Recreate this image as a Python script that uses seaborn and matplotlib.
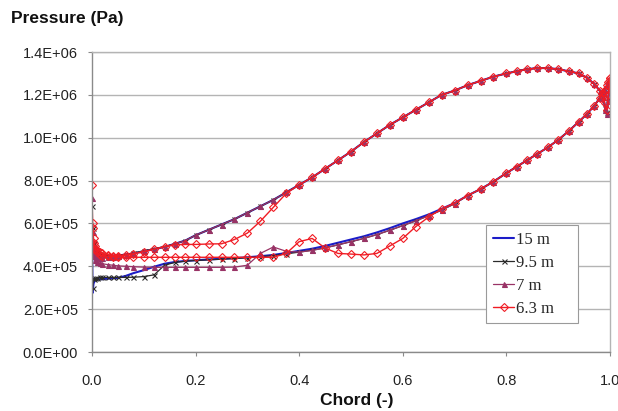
import numpy as np
import pandas as pd
import matplotlib
matplotlib.use("Agg")
import matplotlib.pyplot as plt
from matplotlib.ticker import FuncFormatter, MultipleLocator
from matplotlib.lines import Line2D
import seaborn as sns

# ---------------- data (pressure in units of 1e5 Pa) ----------------
series_labels = ["15 m", "9.5 m", "7 m", "6.3 m"]

chord = [0.001, 0.003, 0.006, 0.01, 0.015, 0.02, 0.03, 0.04, 0.05, 0.065,
         0.08, 0.1, 0.12, 0.14, 0.16, 0.18, 0.2, 0.225, 0.25, 0.275,
         0.3, 0.325, 0.35, 0.375, 0.4, 0.425, 0.45, 0.475, 0.5, 0.525,
         0.55, 0.575, 0.6, 0.625, 0.65, 0.675, 0.7, 0.725, 0.75, 0.775,
         0.8, 0.82, 0.84, 0.86, 0.88, 0.9, 0.92, 0.94, 0.955, 0.97,
         0.98, 0.987, 0.99, 0.994, 0.997, 1.0]

# leading-edge stagnation value for each series
stagnation = [6.0, 6.8, 7.2, 7.8]

p15_upper = [5.3, 4.9, 4.7, 4.6, 4.55, 4.5, 4.5, 4.5, 4.5, 4.55,
             4.6, 4.7, 4.8, 4.9, 5.05, 5.2, 5.45, 5.7, 5.95, 6.2,
             6.5, 6.8, 7.1, 7.45, 7.8, 8.15, 8.55, 8.95, 9.35, 9.8,
             10.2, 10.6, 10.95, 11.3, 11.65, 12.0, 12.2, 12.45, 12.65, 12.85,
             13.0, 13.1, 13.2, 13.25, 13.25, 13.2, 13.1, 13.0, 12.8, 12.5,
             12.2, 11.9, 11.5, 11.3, 11.9, 12.7]
p15_lower = [2.75, 3.2, 3.35, 3.38, 3.4, 3.4, 3.42, 3.44, 3.46, 3.55,
             3.68, 3.82, 3.98, 4.12, 4.2, 4.25, 4.28, 4.32, 4.35, 4.38,
             4.42, 4.47, 4.53, 4.62, 4.72, 4.82, 4.95, 5.1, 5.25, 5.4,
             5.58, 5.78, 6.0, 6.2, 6.42, 6.68, 6.95, 7.3, 7.6, 7.95,
             8.35, 8.65, 8.95, 9.25, 9.55, 9.9, 10.3, 10.75, 11.1, 11.5,
             11.85, 12.1, 12.25, 12.45, 12.6, 12.7]

p95_upper = [5.8, 5.1, 4.8, 4.65, 4.58, 4.52, 4.5, 4.5, 4.5, 4.55,
             4.62, 4.72, 4.82, 4.92, 5.05, 5.2, 5.45, 5.7, 5.95, 6.2,
             6.5, 6.8, 7.1, 7.45, 7.8, 8.15, 8.55, 8.95, 9.35, 9.8,
             10.2, 10.6, 10.95, 11.3, 11.65, 12.0, 12.2, 12.45, 12.65, 12.85,
             13.0, 13.1, 13.2, 13.25, 13.25, 13.2, 13.1, 13.0, 12.8, 12.5,
             12.2, 11.9, 11.4, 11.2, 11.8, 12.7]
p95_lower = [3.0, 3.4, 3.45, 3.47, 3.48, 3.48, 3.48, 3.48, 3.48, 3.48,
             3.49, 3.52, 3.6, 4.05, 4.18, 4.24, 4.27, 4.3, 4.33, 4.36,
             4.4, 4.45, 4.5, 4.58, 4.66, 4.75, 4.86, 5.0, 5.15, 5.3,
             5.48, 5.68, 5.9, 6.12, 6.36, 6.62, 6.92, 7.3, 7.6, 7.95,
             8.35, 8.65, 8.95, 9.25, 9.55, 9.9, 10.3, 10.75, 11.1, 11.5,
             11.85, 12.1, 12.25, 12.45, 12.6, 12.7]

p7_upper = [5.6, 4.9, 4.6, 4.45, 4.4, 4.4, 4.42, 4.45, 4.48, 4.53,
            4.6, 4.7, 4.8, 4.9, 5.05, 5.2, 5.45, 5.7, 5.95, 6.2,
            6.5, 6.8, 7.1, 7.45, 7.8, 8.15, 8.55, 8.95, 9.35, 9.8,
            10.2, 10.6, 10.95, 11.3, 11.65, 12.0, 12.2, 12.45, 12.65, 12.85,
            13.0, 13.1, 13.2, 13.25, 13.25, 13.2, 13.1, 13.0, 12.8, 12.5,
            12.2, 11.9, 11.3, 11.1, 11.7, 12.7]
p7_lower = [5.0, 4.5, 4.28, 4.2, 4.15, 4.12, 4.08, 4.05, 4.02, 4.0,
            3.98, 3.96, 3.95, 3.95, 3.95, 3.95, 3.95, 3.95, 3.95, 3.96,
            4.05, 4.6, 4.9, 4.7, 4.66, 4.74, 4.86, 5.0, 5.15, 5.3,
            5.48, 5.68, 5.9, 6.12, 6.36, 6.62, 6.92, 7.3, 7.6, 7.95,
            8.35, 8.65, 8.95, 9.25, 9.55, 9.9, 10.3, 10.75, 11.1, 11.5,
            11.85, 12.1, 12.25, 12.45, 12.6, 12.7]

p63_upper = [6.0, 5.3, 4.95, 4.75, 4.65, 4.6, 4.55, 4.5, 4.5, 4.52,
             4.58, 4.68, 4.8, 4.92, 5.0, 5.02, 5.02, 5.04, 5.05, 5.25,
             5.55, 6.1, 6.75, 7.4, 7.8, 8.15, 8.55, 8.95, 9.35, 9.8,
             10.2, 10.6, 10.95, 11.3, 11.65, 12.0, 12.2, 12.45, 12.65, 12.85,
             13.0, 13.1, 13.2, 13.25, 13.25, 13.2, 13.1, 13.0, 12.8, 12.5,
             12.2, 11.95, 11.6, 11.3, 12.0, 12.8]
p63_lower = [5.8, 5.1, 4.8, 4.65, 4.55, 4.5, 4.47, 4.45, 4.43, 4.42,
             4.42, 4.42, 4.42, 4.42, 4.42, 4.42, 4.42, 4.42, 4.42, 4.42,
             4.42, 4.42, 4.42, 4.6, 5.15, 5.3, 4.85, 4.6, 4.57, 4.53,
             4.6, 4.95, 5.3, 5.85, 6.3, 6.68, 6.95, 7.3, 7.6, 7.95,
             8.35, 8.65, 8.95, 9.25, 9.55, 9.9, 10.3, 10.75, 11.1, 11.5,
             11.85, 12.1, 12.25, 12.45, 12.6, 12.8]

uppers = [p15_upper, p95_upper, p7_upper, p63_upper]
lowers = [p15_lower, p95_lower, p7_lower, p63_lower]

# ---------------- build long table (closed loop around the foil) ----------------
rows = []
for lab, stag, up, lo in zip(series_labels, stagnation, uppers, lowers):
    xs = list(reversed(chord)) + [0.0] + list(chord)
    ps = list(reversed(lo)) + [stag] + list(up)
    for i, (xv, pv) in enumerate(zip(xs, ps)):
        rows.append({"series": lab, "order": i, "chord": xv, "pressure": pv * 1e5})
df = pd.DataFrame(rows)

# ---------------- styling ----------------
sns.set_style("white")
plt.rcParams["font.family"] = ["Liberation Sans", "DejaVu Sans"]

styles = {
    "15 m":  dict(color="#1c1cc8", marker=None, lw=1.5, ms=0, mfc=None),
    "9.5 m": dict(color="#2a2a2a", marker="x", lw=0.9, ms=3.6, mfc=None),
    "7 m":   dict(color="#993366", marker="^", lw=0.9, ms=3.6, mfc=None),
    "6.3 m": dict(color="#f01c24", marker="D", lw=1.0, ms=4.0, mfc="none"),
}

fig = plt.figure(figsize=(6.18, 4.11), dpi=100)
ax = fig.add_axes([92 / 618, (411 - 352) / 411, (610 - 92) / 618, 300 / 411])

handles = []
for lab in series_labels:
    st = styles[lab]
    sub = df[df["series"] == lab].sort_values("order")
    kw = dict(linewidth=st["lw"], color=st["color"])
    if st["marker"] is not None:
        kw.update(marker=st["marker"], markersize=st["ms"], markeredgewidth=0.8,
                  markeredgecolor=st["color"])
        if st["mfc"] is not None:
            kw.update(markerfacecolor=st["mfc"])
    sns.lineplot(data=sub, x="chord", y="pressure", sort=False, estimator=None,
                 ax=ax, legend=False, **kw)
    handles.append(Line2D([0], [0], color=st["color"], lw=st["lw"],
                          marker=st["marker"] if st["marker"] else None,
                          markersize=st["ms"], markeredgewidth=0.8,
                          markeredgecolor=st["color"],
                          markerfacecolor=st["mfc"] if st["mfc"] else st["color"]))

ax.set_xlim(0, 1.0)
ax.set_ylim(0, 1.4e6)
ax.xaxis.set_major_locator(MultipleLocator(0.2))
ax.yaxis.set_major_locator(MultipleLocator(2e5))
ax.xaxis.set_major_formatter(FuncFormatter(lambda v, p: f"{v:.1f}"))
ax.yaxis.set_major_formatter(FuncFormatter(lambda v, p: format(v, ".1E")))

ax.grid(axis="y", color="#b4b4b4", linewidth=1.0)
ax.grid(axis="x", visible=False)
ax.set_axisbelow(True)

for side in ["left", "bottom"]:
    ax.spines[side].set_color("#8a8a8a")
    ax.spines[side].set_linewidth(1.0)
for side in ["right", "top"]:
    ax.spines[side].set_color("#b4b4b4")
    ax.spines[side].set_linewidth(1.0)

ax.tick_params(axis="y", which="major", length=3, width=0.8, color="#8a8a8a",
               pad=7, labelsize=10.5, labelcolor="#222222", left=True)
ax.tick_params(axis="x", which="major", length=3, width=0.8, color="#8a8a8a",
               pad=13, labelsize=10.5, labelcolor="#222222", bottom=True)

ax.set_xlabel("Chord (-)", fontsize=12.5, fontweight="bold", color="#111111")
ax.xaxis.set_label_coords((357 - 92) / 518, (352 - 393) / 300)
ax.set_ylabel("Pressure (Pa)", fontsize=12.5, fontweight="bold", color="#111111",
              rotation=0, ha="left", va="center")
ax.yaxis.set_label_coords((11 - 92) / 518, (352 - 18) / 300)

leg_x0 = (486 - 92) / 518
leg_y0 = (352 - 327) / 300
leg_w = (578 - 486) / 518
leg_h = (327 - 225) / 300
leg = ax.legend(handles, series_labels, loc="upper left",
                bbox_to_anchor=(leg_x0, leg_y0, leg_w, leg_h), mode="expand",
                frameon=True, fancybox=False, framealpha=1.0, edgecolor="#9a9a9a",
                prop={"family": ["Liberation Serif", "DejaVu Serif"], "size": 12},
                handlelength=1.3, handletextpad=0.12, labelspacing=0.42,
                borderpad=0.4, borderaxespad=0.0)
leg.get_frame().set_linewidth(0.8)

fig.savefig("out.png", dpi=100)
